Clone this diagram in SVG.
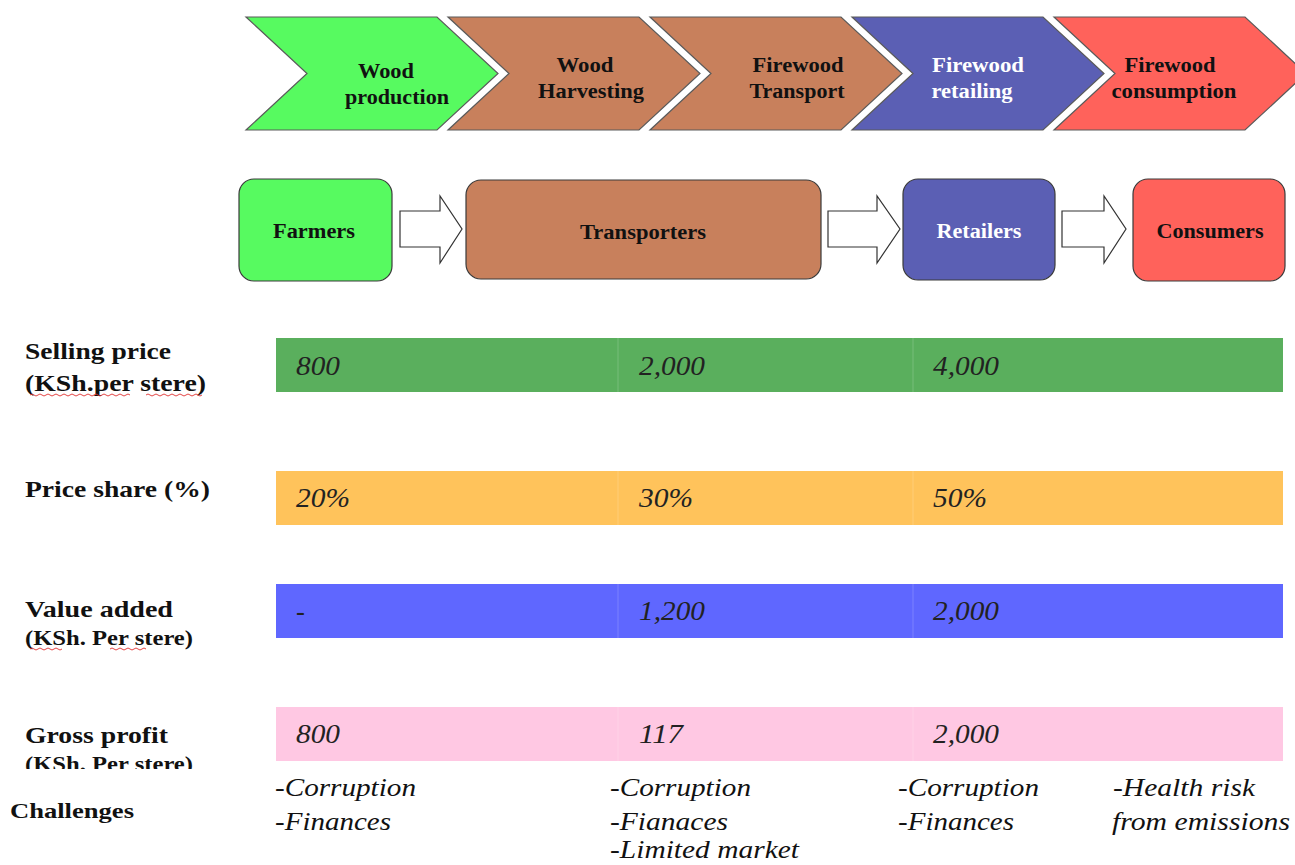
<svg xmlns="http://www.w3.org/2000/svg" width="1295" height="865" viewBox="0 0 1295 865">
<defs>
<style>
.chev{stroke:#5a5a5a;stroke-width:1.2}
.box{stroke:#3a3a3a;stroke-width:1.2}
.lbl{font-family:"Liberation Serif","Times New Roman",serif;font-weight:bold;font-size:20px;text-anchor:middle;fill:#111}
.wht{fill:#fff}
.side{font-family:"Liberation Serif","Times New Roman",serif;font-weight:bold;font-size:24px;fill:#111}
.sub{font-size:20px}
.val{font-family:"Liberation Serif","Times New Roman",serif;font-style:italic;font-size:26.5px;fill:#222}
.ch{font-family:"Liberation Serif","Times New Roman",serif;font-style:italic;font-size:26px;fill:#111}
.arr{fill:#fff;stroke:#333;stroke-width:1.2}
.div{stroke:#fff;stroke-opacity:0.18;stroke-width:1}
.sq{fill:none;stroke:#e03030;stroke-width:0.9}
</style>
<clipPath id="clipGP"><rect x="0" y="700" width="300" height="69"/></clipPath>
</defs>
<rect width="1295" height="865" fill="#fff"/>

<!-- top chevrons -->
<g id="stage-wood-production">
<polygon class="chev" fill="#57FA60" points="246,17 437,17 498,73.5 437,130 246,130 307,73.5"/>
<text class="lbl" x="386" y="78" textLength="56" lengthAdjust="spacingAndGlyphs">Wood</text>
<text class="lbl" x="397" y="104" textLength="104" lengthAdjust="spacingAndGlyphs">production</text>
</g>
<g id="stage-wood-harvesting">
<polygon class="chev" fill="#C8805C" points="448,17 639,17 700,73.5 639,130 448,130 509,73.5"/>
<text class="lbl" x="585" y="72" textLength="57" lengthAdjust="spacingAndGlyphs">Wood</text>
<text class="lbl" x="591" y="98" textLength="106" lengthAdjust="spacingAndGlyphs">Harvesting</text>
</g>
<g id="stage-firewood-transport">
<polygon class="chev" fill="#C8805C" points="650,17 841,17 902,73.5 841,130 650,130 711,73.5"/>
<text class="lbl" x="798" y="72" textLength="91" lengthAdjust="spacingAndGlyphs">Firewood</text>
<text class="lbl" x="797" y="98" textLength="95" lengthAdjust="spacingAndGlyphs">Transport</text>
</g>
<g id="stage-firewood-retailing">
<polygon class="chev" fill="#5B5FB4" points="852,17 1043,17 1104,73.5 1043,130 852,130 913,73.5"/>
<text class="lbl wht" x="978" y="72" textLength="92" lengthAdjust="spacingAndGlyphs">Firewood</text>
<text class="lbl wht" x="972" y="98" textLength="81" lengthAdjust="spacingAndGlyphs">retailing</text>
</g>
<g id="stage-firewood-consumption">
<polygon class="chev" fill="#FF625B" points="1054,17 1245,17 1306,73.5 1245,130 1054,130 1115,73.5"/>
<text class="lbl" x="1170" y="72" textLength="91" lengthAdjust="spacingAndGlyphs">Firewood</text>
<text class="lbl" x="1174" y="98" textLength="125" lengthAdjust="spacingAndGlyphs">consumption</text>
</g>

<!-- actor boxes -->
<g id="farmers">
<rect class="box" x="239" y="179" width="153" height="102" rx="15" fill="#57FA60"/>
<text class="lbl" x="314" y="238" textLength="82" lengthAdjust="spacingAndGlyphs">Farmers</text>
</g>
<g id="transporters">
<rect class="box" x="466" y="180" width="355" height="99" rx="15" fill="#C8805C"/>
<text class="lbl" x="643" y="239" textLength="126" lengthAdjust="spacingAndGlyphs">Transporters</text>
</g>
<g id="retailers">
<rect class="box" x="903" y="179" width="152" height="101" rx="15" fill="#5B5FB4"/>
<text class="lbl wht" x="979" y="238" textLength="85" lengthAdjust="spacingAndGlyphs">Retailers</text>
</g>
<g id="consumers">
<rect class="box" x="1133" y="179" width="152" height="102" rx="15" fill="#FF625B"/>
<text class="lbl" x="1210" y="238" textLength="107" lengthAdjust="spacingAndGlyphs">Consumers</text>
</g>

<g id="connectors">
<polygon class="arr" points="400,211 440,211 440,196 462,229 440,263 440,247 400,247"/>
<polygon class="arr" points="828,211 877,211 877,196 900,229 877,263 877,247 828,247"/>
<polygon class="arr" points="1062,211 1104,211 1104,196 1126,229 1104,263 1104,247 1062,247"/>
</g>

<!-- row labels -->
<g id="row-labels">
<text class="side" x="25" y="359" textLength="146" lengthAdjust="spacingAndGlyphs">Selling price</text>
<text class="side" x="25" y="391" textLength="181" lengthAdjust="spacingAndGlyphs">(KSh.per stere)</text>
<path class="sq" d="M30,395 q2,-2 4,0 t4,0 t4,0 t4,0 t4,0 t4,0 t4,0 t4,0 t4,0 t4,0 t4,0 t4,0 t4,0 t4,0 t4,0 t4,0 t4,0 t4,0 t4,0 t4,0 t4,0 t4,0 t4,0 t4,0 t4,0"/>
<path class="sq" d="M146,395 q2,-2 4,0 t4,0 t4,0 t4,0 t4,0 t4,0 t4,0 t4,0 t4,0 t4,0 t4,0 t4,0 t4,0 t4,0"/>
<text class="side" x="25" y="497" textLength="185" lengthAdjust="spacingAndGlyphs">Price share (%)</text>
<text class="side" x="25" y="617" textLength="148" lengthAdjust="spacingAndGlyphs">Value added</text>
<text class="side sub" x="25" y="645" textLength="168" lengthAdjust="spacingAndGlyphs">(KSh. Per stere)</text>
<path class="sq" d="M30,649 q2,-2 4,0 t4,0 t4,0 t4,0 t4,0 t4,0 t4,0 t4,0"/>
<path class="sq" d="M110,649 q2,-2 4,0 t4,0 t4,0 t4,0 t4,0 t4,0 t4,0 t4,0 t4,0"/>
<text class="side" x="25" y="743" textLength="143" lengthAdjust="spacingAndGlyphs">Gross profit</text>
<g clip-path="url(#clipGP)">
<text class="side sub" x="25" y="771" textLength="168" lengthAdjust="spacingAndGlyphs">(KSh. Per stere)</text>
</g>
<text class="side" x="10" y="818" style="font-size:22px" textLength="124" lengthAdjust="spacingAndGlyphs">Challenges</text>
</g>

<!-- bars -->
<g id="selling-price-bar">
<rect x="276" y="338" width="1007" height="54" fill="#5AAF5D"/>
<line class="div" x1="618" y1="338" x2="618" y2="392"/>
<line class="div" x1="913" y1="338" x2="913" y2="392"/>
<text class="val" x="296" y="375" textLength="44" lengthAdjust="spacingAndGlyphs">800</text>
<text class="val" x="639" y="375" textLength="66" lengthAdjust="spacingAndGlyphs">2,000</text>
<text class="val" x="933" y="375" textLength="66" lengthAdjust="spacingAndGlyphs">4,000</text>
</g>
<g id="price-share-bar">
<rect x="276" y="471" width="1007" height="54" fill="#FFC35B"/>
<line class="div" x1="618" y1="471" x2="618" y2="525"/>
<line class="div" x1="913" y1="471" x2="913" y2="525"/>
<text class="val" x="296" y="507" textLength="54" lengthAdjust="spacingAndGlyphs">20%</text>
<text class="val" x="639" y="507" textLength="54" lengthAdjust="spacingAndGlyphs">30%</text>
<text class="val" x="933" y="507" textLength="54" lengthAdjust="spacingAndGlyphs">50%</text>
</g>
<g id="value-added-bar">
<rect x="276" y="584" width="1007" height="54" fill="#5F67FF"/>
<line class="div" x1="618" y1="584" x2="618" y2="638"/>
<line class="div" x1="913" y1="584" x2="913" y2="638"/>
<text class="val wht" x="296" y="620">-</text>
<text class="val wht" x="639" y="620" textLength="66" lengthAdjust="spacingAndGlyphs">1,200</text>
<text class="val wht" x="933" y="620" textLength="66" lengthAdjust="spacingAndGlyphs">2,000</text>
</g>
<g id="gross-profit-bar">
<rect x="276" y="707" width="1007" height="54" fill="#FFC8E3"/>
<line class="div" x1="618" y1="707" x2="618" y2="761"/>
<line class="div" x1="913" y1="707" x2="913" y2="761"/>
<text class="val" x="296" y="743" textLength="44" lengthAdjust="spacingAndGlyphs">800</text>
<text class="val" x="639" y="743" textLength="44" lengthAdjust="spacingAndGlyphs">117</text>
<text class="val" x="933" y="743" textLength="66" lengthAdjust="spacingAndGlyphs">2,000</text>
</g>

<!-- challenges -->
<g id="challenges-farmers">
<text class="ch" x="275" y="796" textLength="141" lengthAdjust="spacingAndGlyphs">-Corruption</text>
<text class="ch" x="275" y="830" textLength="116" lengthAdjust="spacingAndGlyphs">-Finances</text>
</g>
<g id="challenges-transporters">
<text class="ch" x="610" y="796" textLength="141" lengthAdjust="spacingAndGlyphs">-Corruption</text>
<text class="ch" x="610" y="830" textLength="118" lengthAdjust="spacingAndGlyphs">-Fianaces</text>
<text class="ch" x="610" y="858" textLength="189" lengthAdjust="spacingAndGlyphs">-Limited market</text>
</g>
<g id="challenges-retailers">
<text class="ch" x="898" y="796" textLength="141" lengthAdjust="spacingAndGlyphs">-Corruption</text>
<text class="ch" x="898" y="830" textLength="116" lengthAdjust="spacingAndGlyphs">-Finances</text>
</g>
<g id="challenges-consumers">
<text class="ch" x="1113" y="796" textLength="142" lengthAdjust="spacingAndGlyphs">-Health risk</text>
<text class="ch" x="1112" y="830" textLength="178" lengthAdjust="spacingAndGlyphs">from emissions</text>
</g>
</svg>
